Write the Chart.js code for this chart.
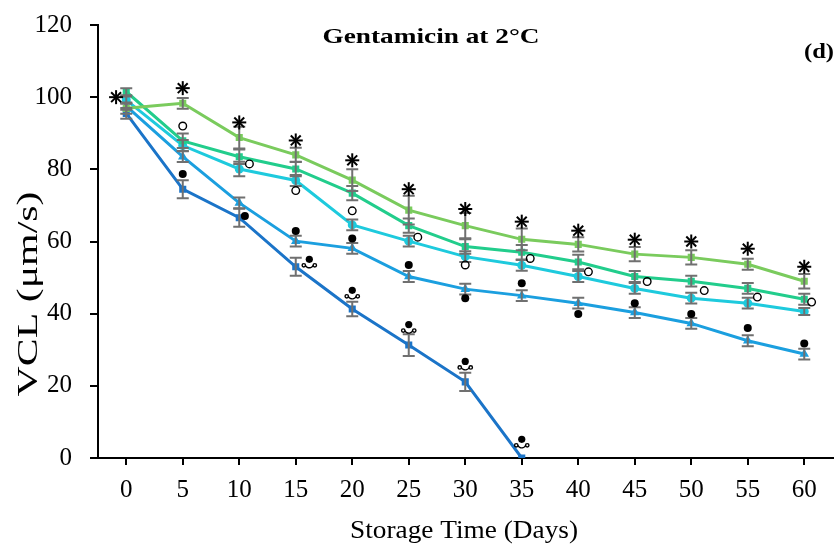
<!DOCTYPE html>
<html>
<head>
<meta charset="utf-8">
<script src="https://cdn.jsdelivr.net/npm/chart.js@4.4.0/dist/chart.umd.min.js"></script>
<style>
  html, body { margin: 0; padding: 0; background: #fff; }
  #wrap { width: 838px; height: 547px; position: relative; }
</style>
</head>
<body>
<div id="wrap"><canvas id="mycanvas"></canvas></div>
<script>
// storage time categories
var days = ['0','5','10','15','20','25','30','35','40','45','50','55','60'];

// VCL means
var greenVals = [96.9, 98.3, 88.8, 84.0, 77.0, 68.7, 64.4, 60.6, 59.2, 56.5, 55.6, 53.7, 49.0];
var tealVals  = [101.5, 87.9, 83.5, 80.1, 73.4, 64.4, 58.6, 57.0, 54.3, 50.3, 49.0, 47.0, 44.0];
var cyanVals  = [99.2, 86.6, 80.1, 76.9, 64.6, 60.1, 55.8, 53.4, 50.3, 47.0, 44.3, 42.9, 40.6];
var blueVals  = [97.5, 83.5, 70.7, 60.1, 58.1, 50.3, 46.8, 45.0, 42.9, 40.3, 37.3, 32.5, 28.8];
var navyVals  = [95.5, 74.5, 66.6, 53.0, 41.3, 31.3, 21.1, 0, null, null, null, null, null];

// error bar half-lengths
var greenErr = [1.5, 1.5, 3, 2, 3, 4, 3.5, 3, 2, 2, 2, 1.5, 2];
var tealErr  = [1, 2, 2, 2, 2, 2, 2, 2, 2, 1.5, 1.5, 1.5, 1.5];
var cyanErr  = [1, 1.5, 2, 1.5, 1.5, 1.5, 1.5, 1.5, 1.5, 1.5, 1.5, 1.5, 1];
var blueErr  = [1, 1.5, 1.5, 1.5, 1.5, 1.5, 1.5, 1.5, 1.5, 1.5, 1.5, 1.5, 1.5];
var navyErr  = [1.5, 2.5, 2.5, 2.5, 2, 3, 2.5, 0, null, null, null, null, null];

// significance marks: [category index, value]
var starMarks   = [[-0.18,100],[1,102.5],[2,93],[3,88],[4,82.5],[5,74.5],[6,69],[7,65.5],[8,63],[9,60.5],[10,60],[11,58],[12,53]];
var circleMarks = [[1,92],[2.18,81.5],[3,74.1],[4,68.5],[5.16,61.2],[6,53.5],[7.15,55.3],[8.18,51.6],[9.22,48.9],[10.23,46.4],[11.17,44.6],[12.13,43.2]];
var dotMarks    = [[1,78.7],[2.1,67.1],[3,62.9],[4,60.8],[5,53.5],[6,44.3],[7,48.4],[8,39.9],[9,42.9],[10,39.9],[11,36],[12,31.7]];
var curlMarks   = [[3.24,54.1],[4,45.5],[5,36],[6,25.8],[7,4.2]];

var yTicks = [0, 20, 40, 60, 80, 100, 120];

var errList = [greenErr, tealErr, cyanErr, blueErr, navyErr];
var serif = '"Liberation Serif", "Times New Roman", serif';

var errorBars = {
  id: 'errorBars',
  afterDatasetsDraw: function(chart) {
    var ctx = chart.ctx, ys = chart.scales.y;
    ctx.save();
    ctx.strokeStyle = '#707070';
    ctx.lineWidth = 2;
    chart.data.datasets.forEach(function(ds, di) {
      var meta = chart.getDatasetMeta(di);
      meta.data.forEach(function(pt, i) {
        var v = ds.data[i], e = errList[di][i];
        if (v === null || !e) return;
        var x = pt.x, y1 = ys.getPixelForValue(v + e), y2 = ys.getPixelForValue(v - e);
        ctx.beginPath();
        ctx.moveTo(x, y1); ctx.lineTo(x, y2);
        ctx.moveTo(x - 6, y1); ctx.lineTo(x + 6, y1);
        ctx.moveTo(x - 6, y2); ctx.lineTo(x + 6, y2);
        ctx.stroke();
      });
    });
    ctx.restore();
  }
};

var marks = {
  id: 'marks',
  afterDatasetsDraw: function(chart) {
    var ctx = chart.ctx, xs = chart.scales.x, ys = chart.scales.y;
    ctx.save();
    ctx.strokeStyle = '#000';
    ctx.fillStyle = '#000';
    starMarks.forEach(function(m) {
      var x = xs.getPixelForValue(m[0]), y = ys.getPixelForValue(m[1]);
      ctx.lineWidth = 2;
      for (var k = 0; k < 4; k++) {
        var a = k * Math.PI / 4;
        ctx.beginPath();
        ctx.moveTo(x - 7 * Math.cos(a), y - 7 * Math.sin(a));
        ctx.lineTo(x + 7 * Math.cos(a), y + 7 * Math.sin(a));
        ctx.stroke();
      }
    });
    circleMarks.forEach(function(m) {
      var x = xs.getPixelForValue(m[0]), y = ys.getPixelForValue(m[1]);
      ctx.lineWidth = 1.4;
      ctx.beginPath(); ctx.arc(x, y, 3.8, 0, Math.PI * 2); ctx.stroke();
    });
    dotMarks.forEach(function(m) {
      var x = xs.getPixelForValue(m[0]), y = ys.getPixelForValue(m[1]);
      ctx.beginPath(); ctx.arc(x, y, 4, 0, Math.PI * 2); ctx.fill();
    });
    curlMarks.forEach(function(m) {
      var x = xs.getPixelForValue(m[0]), y = ys.getPixelForValue(m[1]);
      ctx.beginPath(); ctx.arc(x, y - 3.5, 3.6, 0, Math.PI * 2); ctx.fill();
      ctx.lineWidth = 1.4;
      ctx.beginPath(); ctx.arc(x, y + 0.5, 4.5, 0.15 * Math.PI, 0.85 * Math.PI); ctx.stroke();
      ctx.beginPath(); ctx.arc(x - 5.5, y + 2.5, 1.7, 0, Math.PI * 2); ctx.stroke();
      ctx.beginPath(); ctx.arc(x + 5.5, y + 2.5, 1.7, 0, Math.PI * 2); ctx.stroke();
    });
    ctx.restore();
  }
};

// text drawn at a size and then stretched along its baseline to the target length
function stretchText(ctx, text, font, x, y, len, rot, align) {
  ctx.save();
  ctx.font = font;
  var w = ctx.measureText(text).width;
  ctx.translate(x, y);
  if (rot) ctx.rotate(rot);
  ctx.scale(len / w, 1);
  ctx.textAlign = align || 'center';
  ctx.textBaseline = 'alphabetic';
  ctx.fillText(text, 0, 0);
  ctx.restore();
}

var labels = {
  id: 'labels',
  afterDraw: function(chart) {
    var ctx = chart.ctx;
    ctx.save();
    ctx.fillStyle = '#000';
    stretchText(ctx, 'Gentamicin at 2°C', 'bold 22px ' + serif, 431, 43, 217);
    stretchText(ctx, '(d)', 'bold 22px ' + serif, 834, 58, 30, 0, 'right');
    stretchText(ctx, 'Storage Time (Days)', '25px ' + serif, 464, 538, 228);
    stretchText(ctx, 'VCL (μm/s)', '29px ' + serif, 37, 294, 205, -Math.PI / 2);
    ctx.restore();
  }
};

function lineSet(label, data, color, style, r) {
  return {
    label: label,
    data: data,
    borderColor: color,
    backgroundColor: color,
    borderWidth: 3,
    pointStyle: style,
    pointRadius: r,
    pointBorderWidth: 0,
    tension: 0,
    spanGaps: false
  };
}

var chartdata = {
  labels: days,
  datasets: [
    lineSet('A', greenVals, '#7acb5d', 'rect', 5),
    lineSet('B', tealVals, '#22cd8c', 'rect', 5),
    lineSet('C', cyanVals, '#1ecadd', 'circle', 4.5),
    lineSet('D', blueVals, '#1b9fdf', 'triangle', 5.5),
    lineSet('E', navyVals, '#1b74c8', 'rect', 5)
  ]
};

var ctx = document.getElementById('mycanvas');

new Chart(ctx, {
  type: 'line',
  data: chartdata,
  plugins: [errorBars, marks, labels],
  options: {
    responsive: true,
    maintainAspectRatio: false,
    animation: false,
    layout: { padding: { top: 25, right: 5, left: 0, bottom: 0 } },
    plugins: { legend: { display: false }, tooltip: { enabled: false } },
    scales: {
      x: {
        type: 'category',
        offset: true,
        grid: { display: true, drawOnChartArea: false, offset: false, color: '#000', tickLength: 7, lineWidth: 2 },
        border: { color: '#000', width: 2 },
        ticks: { color: '#000', padding: 10, maxRotation: 0, font: { family: serif, size: 25 } },
        afterFit: function(s) { s.height = 89; s.paddingLeft = 0; s.paddingRight = 0; }
      },
      y: {
        min: 0,
        max: 120,
        afterBuildTicks: function(s) { s.ticks = yTicks.map(function(v) { return { value: v }; }); },
        grid: { display: true, drawOnChartArea: false, color: '#000', tickLength: 8, lineWidth: 2 },
        border: { color: '#000', width: 2 },
        ticks: { color: '#000', padding: 18, font: { family: serif, size: 25 } },
        afterFit: function(s) { s.width = 98; s.paddingTop = 0; s.paddingBottom = 0; }
      }
    }
  }
});
</script>
</body>
</html>
